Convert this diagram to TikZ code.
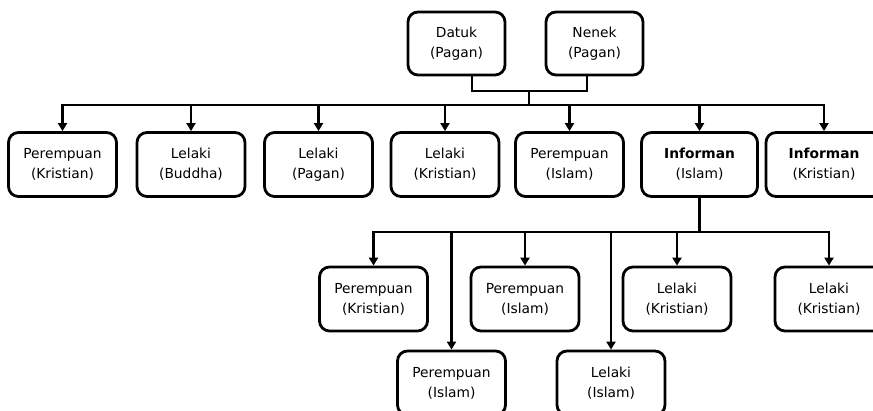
\documentclass[tikz,border=0pt]{standalone}
\usepackage{fontspec}
\setmainfont{DejaVu Sans}
\usetikzlibrary{arrows.meta}
\begin{document}
\begin{tikzpicture}[x=1pt,y=-1pt,
  box/.style={draw, line width=2.8pt, rounded corners=10pt, align=center,
    minimum width=108pt, minimum height=64pt, inner sep=0pt,
    font=\fontsize{13.8}{20}\selectfont},
  wbox/.style={box, minimum width=116pt},
  conn/.style={line width=2.8pt, line join=miter},
  arr/.style={line width=2.8pt, line join=miter, -{Triangle[length=8pt,width=9pt]}}]
\useasboundingbox (0,0) rectangle (873,410);
% top
\node[box, minimum width=97pt, minimum height=63pt] (datuk) at (456.5,43.5) {Datuk\\(Pagan)};
\node[box, minimum width=97pt, minimum height=63pt] (nenek) at (594.5,43.5) {Nenek\\(Pagan)};
% row 1
\node[box] (p1) at (62.5,164.5) {Perempuan\\(Kristian)};
\node[box] (l2) at (191,164.5) {Lelaki\\(Buddha)};
\node[box] (l3) at (318.5,164.5) {Lelaki\\(Pagan)};
\node[box] (l4) at (445,164.5) {Lelaki\\(Kristian)};
\node[box] (p5) at (569.5,164.5) {Perempuan\\(Islam)};
\node[wbox] (inf1) at (699.5,164.5) {\textbf{Informan}\\(Islam)};
\node[wbox] (inf2) at (824,164.5) {\textbf{Informan}\\(Kristian)};
% row 2
\node[box] (a) at (373.5,299) {Perempuan\\(Kristian)};
\node[box] (b) at (525,299) {Perempuan\\(Islam)};
\node[box] (c) at (677,299) {Lelaki\\(Kristian)};
\node[box] (d) at (829,299) {Lelaki\\(Kristian)};
% row 3
\node[box] (e) at (451.5,383) {Perempuan\\(Islam)};
\node[box] (f) at (611,383) {Lelaki\\(Islam)};
% connectors top
\coordinate (j1) at (529,91);
\coordinate (bar) at (0,105);
\coordinate (bar2) at (0,232);
\draw[conn] ([xshift=15.5pt]datuk.south) |- (j1) -| ([xshift=-7.5pt]nenek.south);
\draw[conn] (j1) -- (j1 |- bar);
\draw[arr] (j1 |- bar) -| (p1.north);
\draw[arr] (j1 |- bar) -| (inf2.north);
\foreach \n in {l2,l3,l4,p5,inf1}{
  \draw[arr] (bar -| \n.north) -- (\n.north);
}
% connectors row 2
\draw[conn] (inf1.south) -- (inf1.south |- bar2);
\draw[arr] (bar2 -| inf1.south) -| (a.north);
\draw[arr] (bar2 -| inf1.south) -| (d.north);
\foreach \n in {b,c,e,f}{
  \draw[arr] (bar2 -| \n.north) -- (\n.north);
}
\end{tikzpicture}
\end{document}
